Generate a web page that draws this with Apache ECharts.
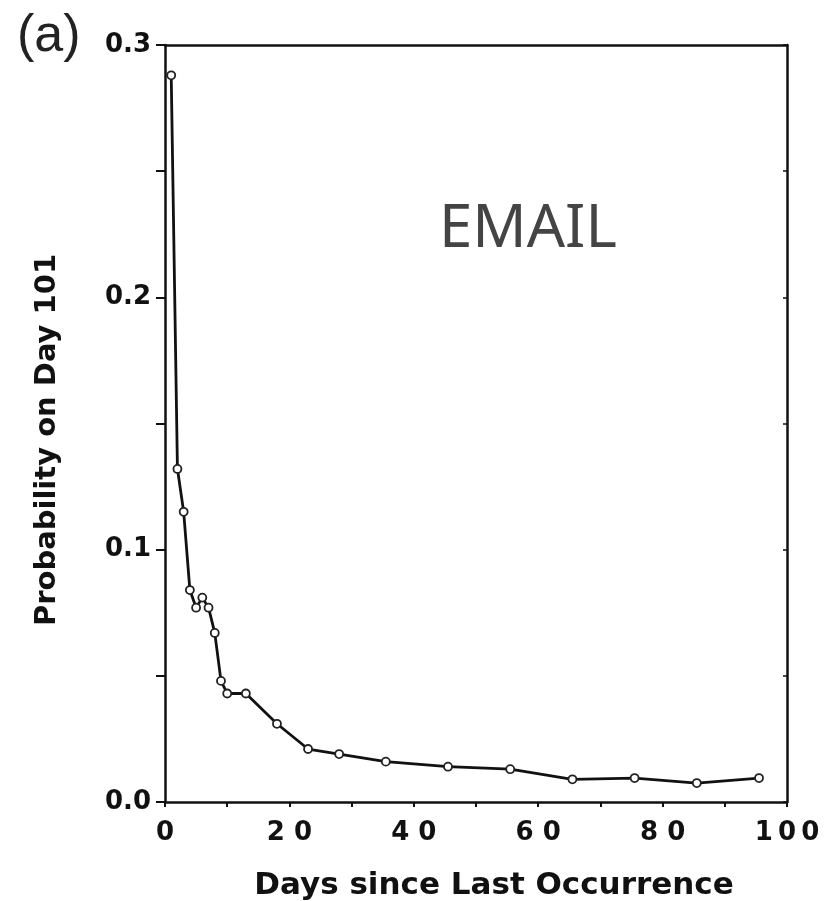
<!DOCTYPE html>
<html>
<head>
<meta charset="utf-8">
<script src="https://cdn.jsdelivr.net/npm/echarts@6/dist/echarts.min.js"></script>
<style>
  html, body { margin: 0; padding: 0; background: #ffffff; }
  #chart { width: 829px; height: 901px; }
</style>
</head>
<body>
<div id="chart"></div>
<script>
// Days since last occurrence (x) and probability on day 101 (y)
var days = [1, 2, 3, 4, 5, 6, 7, 8, 9, 10, 13, 18, 23, 28, 35.5, 45.5, 55.5, 65.5, 75.5, 85.5, 95.5];
var probability = [0.288, 0.132, 0.115, 0.084, 0.077, 0.081, 0.077, 0.067, 0.048, 0.043, 0.043, 0.031, 0.021, 0.019, 0.016, 0.014, 0.013, 0.009, 0.0095, 0.0075, 0.0095];
var xTickLabels = { 0: '0', 20: '2 0', 40: '4 0', 60: '6 0', 80: '8 0', 100: '1\u20090\u20090' };
var yTickLabels = { '0.0': '0.0', '0.1': '0.1', '0.2': '0.2', '0.3': '0.3' };
var panelLabel = '(a)';
var seriesLabel = 'EMAIL';
var xTitle = 'Days since Last Occurrence';
var yTitle = 'Probability on Day 101';

var points = days.map(function (d, i) { return [d, probability[i]]; });

var chart = echarts.init(document.getElementById('chart'), null, { renderer: 'canvas' });
var tickFont = { fontFamily: 'DejaVu Sans', fontWeight: 'bold', fontSize: 26, color: '#111' };
var axisLineStyle = { color: '#111', width: 2.5 };

chart.setOption({
  animation: false,
  backgroundColor: '#ffffff',
  grid: { left: 165, right: 42, top: 45, bottom: 99, containLabel: false },
  xAxis: [{
    type: 'value', min: 0, max: 100, interval: 10, position: 'bottom',
    axisLine: { show: true, onZero: false, lineStyle: axisLineStyle },
    axisTick: { show: true, inside: false, length: 5, lineStyle: { color: '#111', width: 2 } },
    splitLine: { show: false },
    axisLabel: {
      margin: 18,
      formatter: function (v) { return xTickLabels[v] !== undefined ? xTickLabels[v] : ''; },
      fontFamily: tickFont.fontFamily, fontWeight: tickFont.fontWeight, fontSize: tickFont.fontSize, color: tickFont.color
    }
  }, {
    type: 'value', min: 0, max: 100, position: 'top',
    axisLine: { show: true, onZero: false, lineStyle: axisLineStyle },
    axisTick: { show: false }, axisLabel: { show: false }, splitLine: { show: false }
  }],
  yAxis: [{
    type: 'value', min: 0, max: 0.3, interval: 0.05, position: 'left',
    axisLine: { show: true, onZero: false, lineStyle: axisLineStyle },
    axisTick: { show: true, inside: false, length: 9, lineStyle: { color: '#111', width: 2 } },
    splitLine: { show: false },
    axisLabel: {
      margin: 14,
      formatter: function (v) { var k = v.toFixed(1); return (Math.abs(v * 10 - Math.round(v * 10)) < 1e-6) ? yTickLabels[k] : ''; },
      fontFamily: tickFont.fontFamily, fontWeight: tickFont.fontWeight, fontSize: tickFont.fontSize, color: tickFont.color
    }
  }, {
    type: 'value', min: 0, max: 0.3, interval: 0.05, position: 'right',
    axisLine: { show: true, onZero: false, lineStyle: axisLineStyle },
    axisTick: { show: true, inside: true, length: 4, lineStyle: { color: '#111', width: 1.5 } },
    axisLabel: { show: false }, splitLine: { show: false }
  }],
  graphic: [{
    type: 'text', left: 17, top: 11,
    style: { text: panelLabel, fontFamily: 'Liberation Sans', fontSize: 52, fill: '#222' }
  }, {
    type: 'text', left: 439, top: 200,
    style: { text: seriesLabel, fontFamily: 'Noto Sans', fontSize: 60, fill: '#444' }
  }, {
    type: 'text', x: 494, y: 886,
    style: { text: xTitle, fontFamily: 'DejaVu Sans', fontWeight: 'bold', fontSize: 31, fill: '#111', align: 'center', verticalAlign: 'middle' }
  }, {
    type: 'text', x: 47, y: 440, rotation: Math.PI / 2,
    style: { text: yTitle, fontFamily: 'DejaVu Sans', fontWeight: 'bold', fontSize: 29, fill: '#111', align: 'center', verticalAlign: 'middle' }
  }],
  series: [{
    type: 'line', data: points, xAxisIndex: 0, yAxisIndex: 0,
    symbol: 'circle', symbolSize: 8, showSymbol: true,
    lineStyle: { color: '#111', width: 2.8 },
    itemStyle: { color: '#ffffff', borderColor: '#222', borderWidth: 1.8 },
    z: 5
  }]
});
</script>
</body>
</html>
